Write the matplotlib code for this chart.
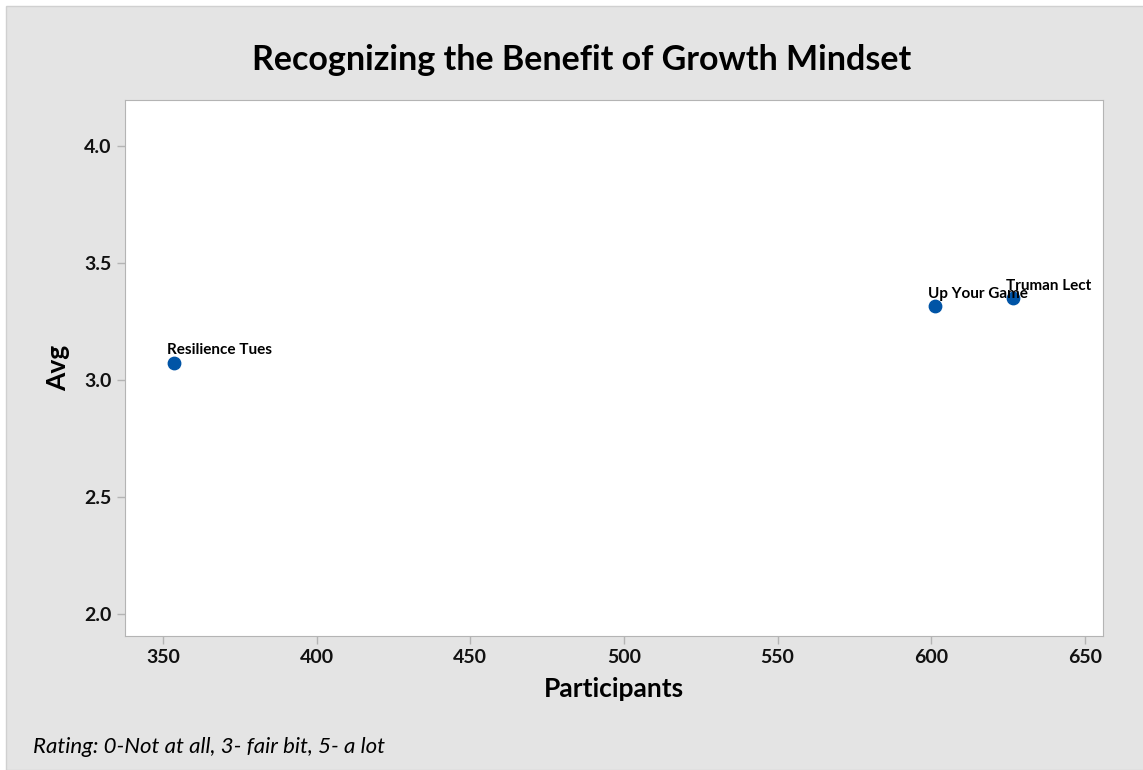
import matplotlib.pyplot as plt
from matplotlib.patches import Rectangle

plt.rcParams['font.family'] = ['Lato', 'DejaVu Sans']

names = ['Resilience Tues', 'Up Your Game', 'Truman Lect']
participants = [353.6, 601.1, 626.5]
avg = [3.073, 3.315, 3.35]

bg = '#e4e4e4'
edge = '#b4b4b4'

fig = plt.figure(figsize=(11.43, 7.7), dpi=100, facecolor='white')
fig.patches.append(Rectangle((6 / 1143, 0), 1, 1 - 6 / 770, transform=fig.transFigure,
                             facecolor=bg, edgecolor='#d0d0d0', lw=1, zorder=-1))

ax = fig.add_axes([125 / 1143, 1 - 636 / 770, (1103 - 125) / 1143, (636 - 100) / 770])
ax.set_facecolor('white')
ax.scatter(participants, avg, s=80, color='#0054a6', zorder=3)
for n, x, y in zip(names, participants, avg):
    ax.annotate(n, (x, y), xytext=(-5, 4), textcoords='offset points',
                fontsize=11, fontweight='bold', ha='left', va='bottom')

ax.set_xlim(337.6, 655.9)
ax.set_ylim(1.906, 4.197)
ax.set_xticks([350, 400, 450, 500, 550, 600, 650])
ax.set_yticks([2.0, 2.5, 3.0, 3.5, 4.0])
ax.set_yticklabels(['2.0', '2.5', '3.0', '3.5', '4.0'])
for s in ax.spines.values():
    s.set_color(edge)
ax.tick_params(colors=edge, labelcolor='#111111', labelsize=14, length=6, width=1)
for lab in ax.get_xticklabels() + ax.get_yticklabels():
    lab.set_fontweight('bold')

ax.set_xlabel('Participants', fontsize=19, fontweight='bold', labelpad=8)
ax.set_ylabel('Avg', fontsize=19, fontweight='bold', labelpad=10)
fig.text(0.509, 1 - 60 / 770, 'Recognizing the Benefit of Growth Mindset', fontsize=24.5,
         fontweight='bold', ha='center', va='center')
fig.text(33 / 1143, 1 - 747 / 770, 'Rating: 0-Not at all, 3- fair bit, 5- a lot',
         fontsize=16, style='italic', ha='left', va='center')

fig.savefig('out.png', dpi=100, facecolor=fig.get_facecolor())
